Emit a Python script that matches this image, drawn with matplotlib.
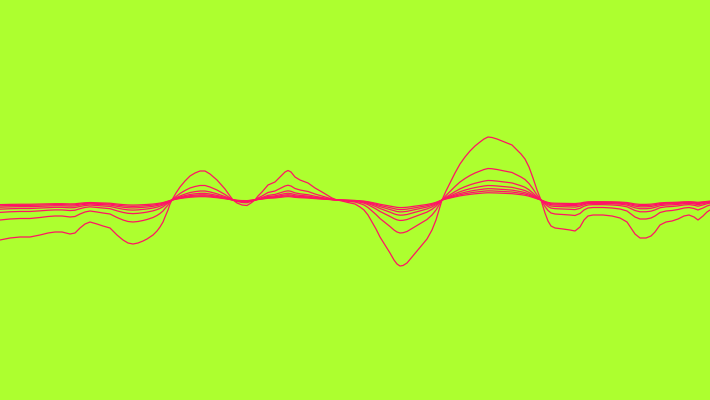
import matplotlib
import numpy as np

matplotlib.use("agg")

import matplotlib.pyplot as plt

# horizontal positions (px) and offset of the widest line from the centre (px, down positive)
xs = [0, 10, 20, 30, 40, 48, 55, 62, 70, 75, 80, 85, 90, 97, 103, 110, 117, 123, 128, 133,
      138, 143, 147, 153, 157, 160, 163, 165, 168, 170, 172, 176, 180, 185, 190, 195, 200, 205,
      210, 217, 225, 230, 233, 237, 242, 247, 251, 255, 258, 262, 268, 275, 280, 285, 288, 291,
      295, 300, 308, 315, 322, 327, 332, 337, 342, 348, 355, 360, 364, 368, 372, 376, 380, 385,
      390, 394, 397, 400, 403, 407, 412, 417, 422, 427, 432, 436, 439, 442, 446, 450, 455, 460,
      465, 470, 475, 480, 484, 488, 492, 497, 502, 507, 512, 517, 521, 525, 529, 533, 537, 541,
      545, 548, 551, 555, 563, 570, 575, 580, 584, 588, 593, 603, 612, 620, 627, 631, 635, 640,
      646, 651, 655, 660, 666, 672, 678, 684, 689, 694, 698, 703, 707, 710]
offsets = [40, 38, 37, 37, 35, 33, 32, 32, 34, 33, 28, 24, 22, 24, 26, 28, 35, 40, 43, 44,
           43, 41, 39, 35, 31, 27, 22, 17, 10, 4, 0, -7, -13, -19, -24, -27, -29, -29,
           -26, -20, -11, -4, 0, 3, 5, 5.5, 3, 0, -4, -8, -15, -18, -23, -28, -29.5, -28,
           -23, -20, -17, -12, -8, -5, -2, 0, 1, 2.5, 4, 7, 10, 15, 22, 29, 37, 45,
           53, 60, 64, 66, 65.5, 63, 57, 51, 45, 39, 30, 20, 10, 0, -9, -17, -27, -36,
           -43, -49, -54, -58, -61, -63, -62.5, -61, -59, -57, -55, -50, -46, -41, -33, -22, -10, 0,
           13, 21, 26, 28, 29, 30, 31, 27, 20, 16, 15, 15, 16, 18, 22, 28, 34, 38,
           38, 36, 32, 25, 22, 21, 19, 16, 15, 17, 20, 16, 12, 10]

# how strongly each line follows the wave
scales = [1, 0.5, 0.31, 0.23, 0.18, 0.145, 0.115]
centre = 200

bg_color = '#adff2f'
line_color = '#ff1464'

fig = plt.figure(figsize=(7.1, 4.0), dpi=100, facecolor=bg_color)
ax = fig.add_axes([0, 0, 1, 1])
ax.set_facecolor(bg_color)

x = np.array(xs, dtype=float)
d = np.array(offsets, dtype=float)
for s in scales:
    ax.plot(x, centre + s * d, color=line_color, linewidth=0.9, solid_joinstyle='round')

ax.set_xlim(0, 710)
ax.set_ylim(400, 0)
ax.axis('off')

fig.savefig("out.png", dpi=100, facecolor=bg_color)
